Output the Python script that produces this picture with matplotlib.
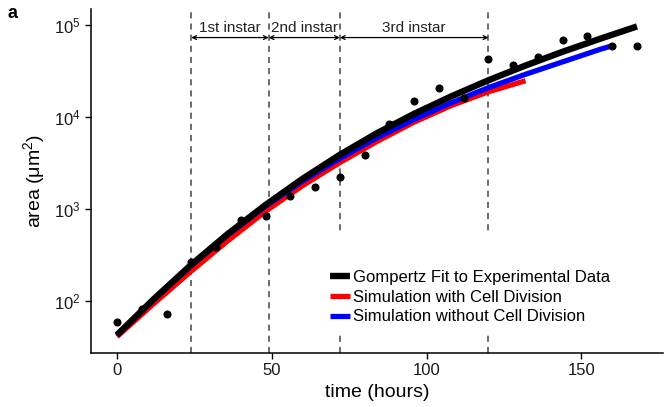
import matplotlib
matplotlib.use('Agg')
import matplotlib.pyplot as plt
from matplotlib.patches import Rectangle

plt.rcParams['font.family'] = ['Liberation Sans', 'DejaVu Sans']
plt.rcParams['mathtext.fontset'] = 'custom'
plt.rcParams['mathtext.rm'] = 'Liberation Sans'

# experimental data (area in um^2, every 8 hours)
t_data = [0, 8, 16, 24, 32, 40, 48, 56, 64, 72, 80, 88, 96, 104, 112, 120,
          128, 136, 144, 152, 160, 168]
area_data = [58.7, 80.2, 71.8, 262, 385, 747, 826, 1374, 1735, 2213, 3867, 8405,
             14600, 20560, 15880, 42560, 35980, 44400, 68500, 74400, 57900, 57900]

# curves
t_fit = [0, 12, 24, 36, 48, 60, 72, 84, 96, 108, 120, 132, 144, 156, 168]
gompertz = [42.3, 104.7, 245.5, 537, 1096, 2113, 3846, 6607, 10720, 16600,
            24830, 35890, 50700, 69980, 95500]

t_div = [0, 12, 24, 36, 48, 60, 72, 84, 96, 108, 120, 132]
sim_div = [40.5, 93.3, 209, 452, 933, 1778, 3162, 5370, 8710, 13180, 18620, 24550]

t_nodiv = [0, 12, 24, 36, 48, 60, 72, 84, 96, 108, 120, 132, 144, 156, 160]
sim_nodiv = [41.7, 102.8, 239.9, 522.4, 1059, 1995, 3508, 5888, 9333, 14130,
             20650, 28840, 39360, 53700, 58880]

instar_bounds = [24, 49, 72, 120]
instar_names = ['1st instar', '2nd instar', '3rd instar']

fig = plt.figure(figsize=(6.65, 4.07), dpi=100)
ax = fig.add_axes([0.1368, 0.1327, 0.8602, 0.8453])

ax.plot(t_div, sim_div, color='#ff0000', lw=3.8, solid_capstyle='butt',
        solid_joinstyle='round', label='Simulation with Cell Division', zorder=2)
ax.plot(t_nodiv, sim_nodiv, color='#0000ff', lw=3.8, solid_capstyle='butt',
        solid_joinstyle='round', label='Simulation without Cell Division', zorder=3)
ax.plot(t_fit, gompertz, color='black', lw=4.6, solid_capstyle='butt',
        solid_joinstyle='round', label='Gompertz Fit to Experimental Data', zorder=4)
ax.plot(t_data, area_data, 'o', color='black', ms=4.8, zorder=5)

for b in instar_bounds:
    ax.axvline(b, color='#444444', lw=1.1, ls=(0, (4, 3.3)), zorder=1)

y_arrow = 10 ** 4.859
y_text = 10 ** 4.96
for i, name in enumerate(instar_names):
    x0, x1 = instar_bounds[i], instar_bounds[i + 1]
    ax.annotate('', xy=(x1, y_arrow), xytext=(x0, y_arrow),
                arrowprops=dict(arrowstyle='<->', lw=0.9, color='black',
                                shrinkA=0, shrinkB=0, mutation_scale=7))
    ax.text((x0 + x1) / 2, y_text, name, ha='center', va='center', fontsize=11,
            color='#222222')

ax.set_yscale('log')
ax.set_xlim(-8.4, 176.4)
ax.set_ylim(10 ** 1.43, 10 ** 5.17)
ax.set_xticks([0, 50, 100, 150])
ax.set_yticks([1e2, 1e3, 1e4, 1e5])
ax.minorticks_off()

ax.spines['top'].set_visible(False)
ax.spines['right'].set_visible(False)
ax.spines['left'].set_linewidth(1.1)
ax.spines['bottom'].set_linewidth(1.1)
ax.tick_params(axis='both', labelsize=12, length=4, width=1.0, colors='black',
               labelcolor='#1a1a1a')

ax.set_xlabel('time (hours)', fontsize=14)
ax.set_ylabel('area (μm$^2$)', fontsize=14)

# white legend background hides the dashed lines behind it
ax.add_patch(Rectangle((0.404, 0.052), 0.52, 0.30, transform=ax.transAxes,
                       facecolor='white', edgecolor='none', zorder=1.5))

handles, labels = ax.get_legend_handles_labels()
order = [2, 0, 1]
leg = ax.legend([handles[i] for i in order], [labels[i] for i in order],
                loc='upper left', bbox_to_anchor=(0.418, 0.242), frameon=False,
                fontsize=12, handlelength=1.2, handletextpad=0.15,
                labelspacing=0.29, borderpad=0, borderaxespad=0)

fig.text(0.011, 0.955, 'a', fontsize=13, fontweight='bold')

fig.savefig('out.png', dpi=100)
